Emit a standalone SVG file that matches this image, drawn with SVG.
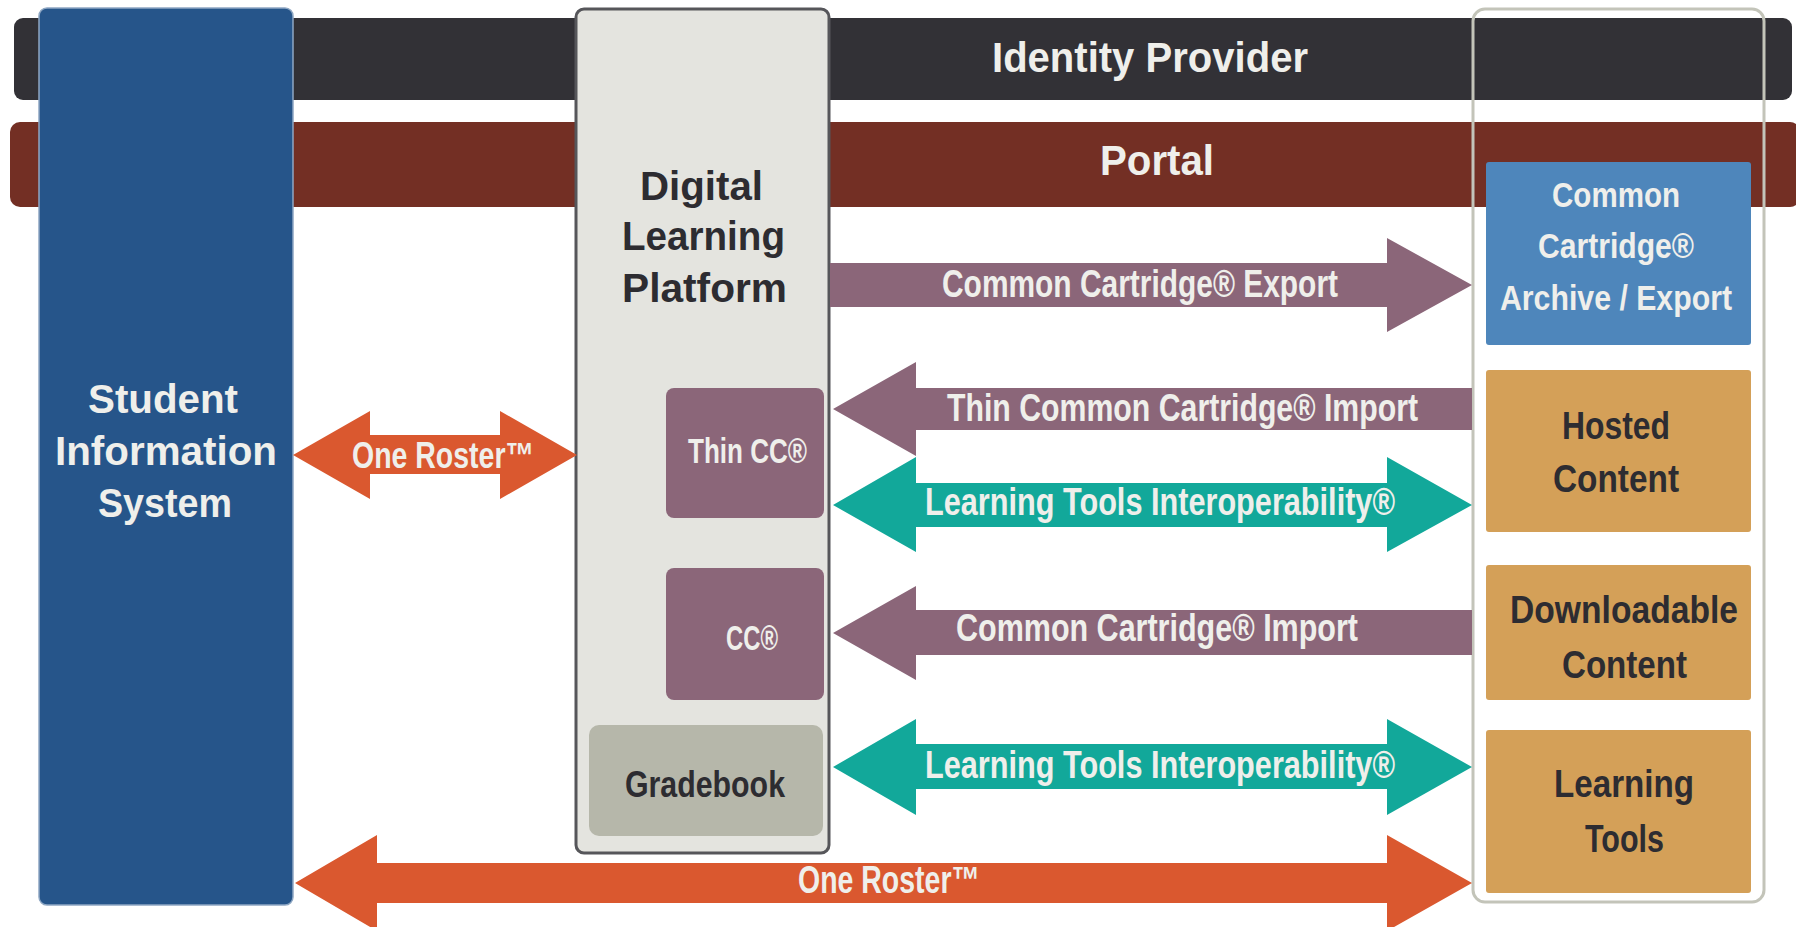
<svg xmlns="http://www.w3.org/2000/svg" width="1796" height="927" viewBox="0 0 1796 927">
<style>
.lt{fill:#efefeb;font-family:"Liberation Sans","DejaVu Sans",sans-serif;font-weight:bold}
.dk{fill:#2d2c31;font-family:"Liberation Sans","DejaVu Sans",sans-serif;font-weight:bold}
.cond{font-family:"Liberation Sans Narrow","Liberation Sans","DejaVu Sans Condensed",sans-serif;font-weight:bold}
.purple{fill:#8b6679}
.teal{fill:#12a89a}
.orange{fill:#da582f}
.orangebox{fill:#d4a058}
</style>
<rect width="1796" height="927" fill="#ffffff"/>
<g id="identity-provider">
<rect x="14" y="18" width="1778" height="82" rx="9" fill="#323136"/>
<text class="lt cond" x="992" y="72" font-size="42" textLength="316" lengthAdjust="spacingAndGlyphs">Identity Provider</text>
</g>
<g id="portal">
<rect x="10" y="122" width="1790" height="85" rx="10" fill="#732f24"/>
<text class="lt cond" x="1100" y="175" font-size="43" textLength="114" lengthAdjust="spacingAndGlyphs">Portal</text>
</g>
<g id="student-information-system">
<rect x="39" y="8" width="254" height="897" rx="8" fill="#26558a" stroke="#8ea7c3" stroke-width="1.5"/>
<text class="lt" x="88" y="413" font-size="41" textLength="150" lengthAdjust="spacingAndGlyphs">Student</text>
<text class="lt" x="55" y="465" font-size="41" textLength="222" lengthAdjust="spacingAndGlyphs">Information</text>
<text class="lt" x="98" y="517" font-size="41" textLength="134" lengthAdjust="spacingAndGlyphs">System</text>
</g>
<g id="digital-learning-platform">
<rect x="576" y="9" width="253" height="844" rx="8" fill="#e4e4df" stroke="#56565a" stroke-width="3"/>
<text class="dk" x="640" y="200" font-size="40" textLength="123" lengthAdjust="spacingAndGlyphs">Digital</text>
<text class="dk" x="622" y="250" font-size="40" textLength="163" lengthAdjust="spacingAndGlyphs">Learning</text>
<text class="dk" x="622" y="302" font-size="40" textLength="165" lengthAdjust="spacingAndGlyphs">Platform</text>
</g>
<g id="thin-cc">
<rect x="666" y="388" width="158" height="130" rx="8" class="purple"/>
<text class="lt cond" x="688" y="463" font-size="35" textLength="119" lengthAdjust="spacingAndGlyphs">Thin CC®</text>
</g>
<g id="cc">
<rect x="666" y="568" width="158" height="132" rx="8" class="purple"/>
<text class="lt cond" x="726" y="650" font-size="35" textLength="52" lengthAdjust="spacingAndGlyphs">CC®</text>
</g>
<g id="gradebook">
<rect x="589" y="725" width="234" height="111" rx="10" fill="#b6b7aa"/>
<text class="dk cond" x="625" y="797" font-size="37" textLength="160" lengthAdjust="spacingAndGlyphs">Gradebook</text>
</g>
<g id="content-providers">
<rect x="1473" y="9" width="291" height="893" rx="12" fill="none" stroke="#c3c4b9" stroke-width="3"/>
</g>
<g id="cc-archive-export">
<rect x="1486" y="162" width="265" height="183" rx="3" fill="#4e86bb"/>
<text class="lt" x="1552" y="207" font-size="35" textLength="128" lengthAdjust="spacingAndGlyphs">Common</text>
<text class="lt" x="1538" y="258" font-size="35" textLength="156" lengthAdjust="spacingAndGlyphs">Cartridge®</text>
<text class="lt" x="1500" y="310" font-size="35" textLength="232" lengthAdjust="spacingAndGlyphs">Archive / Export</text>
</g>
<g id="hosted-content">
<rect x="1486" y="370" width="265" height="162" rx="3" class="orangebox"/>
<text class="dk" x="1562" y="439" font-size="38" textLength="108" lengthAdjust="spacingAndGlyphs">Hosted</text>
<text class="dk" x="1553" y="492" font-size="38" textLength="126" lengthAdjust="spacingAndGlyphs">Content</text>
</g>
<g id="downloadable-content">
<rect x="1486" y="565" width="265" height="135" rx="3" class="orangebox"/>
<text class="dk" x="1510" y="623" font-size="38" textLength="228" lengthAdjust="spacingAndGlyphs">Downloadable</text>
<text class="dk" x="1562" y="678" font-size="38" textLength="125" lengthAdjust="spacingAndGlyphs">Content</text>
</g>
<g id="learning-tools">
<rect x="1486" y="730" width="265" height="163" rx="3" class="orangebox"/>
<text class="dk" x="1554" y="797" font-size="38" textLength="140" lengthAdjust="spacingAndGlyphs">Learning</text>
<text class="dk" x="1585" y="852" font-size="38" textLength="79" lengthAdjust="spacingAndGlyphs">Tools</text>
</g>
<g id="connectors">
<polygon class="purple" points="830,263 1387,263 1387,238 1472,285 1387,332 1387,307 830,307"/>
<text class="lt cond" x="942" y="297" font-size="38" textLength="396" lengthAdjust="spacingAndGlyphs">Common Cartridge® Export</text>
<polygon class="purple" points="1472,388 916,388 916,362 833,409 916,456 916,430 1472,430"/>
<text class="lt cond" x="947" y="421" font-size="38" textLength="471" lengthAdjust="spacingAndGlyphs">Thin Common Cartridge® Import</text>
<polygon class="teal" points="833,505 916,457 916,483 1387,483 1387,457 1472,505 1387,552 1387,527 916,527 916,552"/>
<text class="lt cond" x="925" y="515" font-size="38" textLength="470" lengthAdjust="spacingAndGlyphs">Learning Tools Interoperability®</text>
<polygon class="purple" points="1472,610 916,610 916,586 833,633 916,680 916,655 1472,655"/>
<text class="lt cond" x="956" y="641" font-size="38" textLength="402" lengthAdjust="spacingAndGlyphs">Common Cartridge® Import</text>
<polygon class="teal" points="833,767 916,719 916,744 1387,744 1387,719 1472,767 1387,815 1387,789 916,789 916,815"/>
<text class="lt cond" x="925" y="778" font-size="38" textLength="470" lengthAdjust="spacingAndGlyphs">Learning Tools Interoperability®</text>
<polygon class="orange" points="295,883 377,835 377,863 1387,863 1387,835 1472,883 1387,931 1387,903 377,903 377,931"/>
<text class="lt cond" x="798" y="893" font-size="38" textLength="182" lengthAdjust="spacingAndGlyphs">One Roster™</text>
<polygon class="orange" points="293,455 370,411 370,435 500,435 500,411 577,455 500,499 500,474 370,474 370,499"/>
<text class="lt cond" x="352" y="468" font-size="36" textLength="182" lengthAdjust="spacingAndGlyphs">One Roster™</text>
</g>
</svg>
